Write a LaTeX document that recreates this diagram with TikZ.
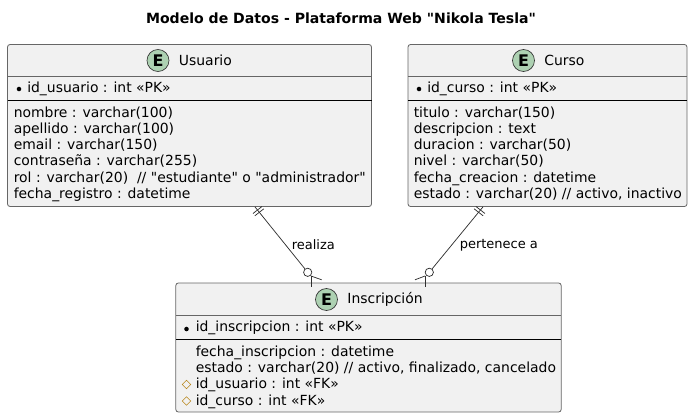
\documentclass[tikz,border=0pt]{standalone}
\usepackage{fontspec}
\setmainfont[Ligatures=TeXOff]{DejaVu Sans}
\usetikzlibrary{calc, positioning, shapes.geometric}

\definecolor{entityfill}{HTML}{F1F1F1}
\definecolor{spotfill}{HTML}{ADD1B2}
\definecolor{boxgray}{HTML}{666666}
\definecolor{linegray}{HTML}{303030}
\definecolor{fkgold}{HTML}{B8861B}

\tikzset{
	entity/.style = {draw=boxgray, fill=entityfill, line width=0.6pt, rounded corners=1.9pt, inner sep=0pt},
	spot/.style = {circle, draw=linegray, fill=spotfill, line width=0.5pt, minimum size=16.5pt, inner sep=0pt, font=\fontsize{12}{12}\selectfont\bfseries},
	head/.style = {anchor=west, inner sep=0pt, font=\fontsize{10.45}{12}\selectfont},
	row/.style = {anchor=west, inner sep=0pt, text height=8pt, text depth=2pt, font=\fontsize{10.45}{12}\selectfont},
	pkdot/.style = {circle, fill=black, minimum size=3.4pt, inner sep=0pt},
	fkmark/.style = {diamond, draw=fkgold, line width=0.5pt, minimum size=6.6pt, inner sep=0pt},
	rellabel/.style = {anchor=west, inner sep=0pt, font=\fontsize{9.75}{12}\selectfont},
	rel/.style = {draw=linegray, line width=0.55pt},
	optmark/.style = {circle, draw=linegray, fill=white, line width=0.55pt, minimum size=6.2pt, inner sep=0pt}
}

\begin{document}
\begin{tikzpicture}[x=0.75pt, y=-0.75pt]
	\useasboundingbox (0,0) rectangle (693,418);

	\node[inner sep=0pt, font=\fontsize{10.55}{12}\selectfont\bfseries] (title) at (341,18) {Modelo de Datos - Plataforma Web "Nikola Tesla"};

	% Usuario
	\node[entity, minimum width=273pt, minimum height=121.5pt] (usuario) at (189.5,125.5) {};
	\draw[draw=boxgray, line width=0.6pt] (7.5,76.5) -- (371.5,76.5);
	\draw[draw=black, line width=0.6pt] (7.5,100) -- (371.5,100);
	\node[spot] (spotu) at (158,60.5) {E};
	\node[head, right=7pt of spotu] (headu) {Usuario};
	\node[pkdot] (dotu) at (19,89) {};
	\node[row] (idu) at (27,88) {id\_usuario : int «PK»};
	\node[row] (u1) at (13.5,113) {nombre : varchar(100)};
	\node[row] (u2) at (13.5,129) {apellido : varchar(100)};
	\node[row] (u3) at (13.5,145) {email : varchar(150)};
	\node[row] (u4) at (13.5,161.5) {contraseña : varchar(255)};
	\node[row] (u5) at (13.5,178) {rol : varchar(20)\ \ // "estudiante" o "administrador"};
	\node[row] (u6) at (13.5,194) {fecha\_registro : datetime};

	% Curso
	\node[entity, minimum width=209.25pt, minimum height=121.5pt] (curso) at (547.5,125.5) {};
	\draw[draw=boxgray, line width=0.6pt] (408,76.5) -- (687,76.5);
	\draw[draw=black, line width=0.6pt] (408,100) -- (687,100);
	\node[spot] (spotc) at (523.5,60.5) {E};
	\node[head, right=7pt of spotc] (headc) {Curso};
	\node[pkdot] (dotc) at (419,89) {};
	\node[row] (idc) at (427,88) {id\_curso : int «PK»};
	\node[row] (c1) at (413.5,113) {titulo : varchar(150)};
	\node[row] (c2) at (413.5,129) {descripcion : text};
	\node[row] (c3) at (413.5,145) {duracion : varchar(50)};
	\node[row] (c4) at (413.5,161.5) {nivel : varchar(50)};
	\node[row] (c5) at (413.5,178) {fecha\_creacion : datetime};
	\node[row] (c6) at (413.5,194) {estado : varchar(20) // activo, inactivo};

	% Inscripcion
	\node[entity, minimum width=289pt, minimum height=96.75pt] (inscripcion) at (368.5,347.5) {};
	\draw[draw=boxgray, line width=0.6pt] (176,315.5) -- (561,315.5);
	\draw[draw=black, line width=0.6pt] (176,339.5) -- (561,339.5);
	\node[spot] (spoti) at (326.5,299.5) {E};
	\node[head, right=7pt of spoti] (headi) {Inscripción};
	\node[pkdot] (doti) at (186.5,329) {};
	\node[row] (idi) at (195.5,327.5) {id\_inscripcion : int «PK»};
	\node[row] (i1) at (195.5,352) {fecha\_inscripcion : datetime};
	\node[row] (i2) at (195.5,368) {estado : varchar(20) // activo, finalizado, cancelado};
	\node[fkmark] (fku) at (186.5,384.5) {};
	\node[row] (i3) at (195.5,384.5) {id\_usuario : int «FK»};
	\node[fkmark] (fkc) at (186.5,401) {};
	\node[row] (i4) at (195.5,401) {id\_curso : int «FK»};

	% realiza
	\node[optmark] (optu) at (307.7,272.3) {};
	\coordinate (startu) at ([xshift=49.1pt]usuario.south);
	\coordinate (crowu) at (311,276);
	\draw[rel] (startu) -- (optu);
	\draw[rel] ($(startu)!3pt!(optu)$)+(-4.5,3.5) -- +(4.5,-3.5);
	\draw[rel] ($(startu)!5.2pt!(optu)$)+(-4.5,3.5) -- +(4.5,-3.5);
	\draw[rel] (crowu) -- ([yshift=-3pt]crowu |- inscripcion.north);
	\draw[rel] (crowu) -- (321.7,279.8);
	\node[rellabel] (lblu) at (291.5,245) {realiza};

	% pertenece a
	\node[optmark] (optc) at (429.3,272.3) {};
	\coordinate (startc) at ([xshift=-48.4pt]curso.south);
	\coordinate (crowc) at (425,276);
	\draw[rel] (startc) -- (optc);
	\draw[rel] ($(startc)!3pt!(optc)$)+(-4.5,-3.5) -- +(4.5,3.5);
	\draw[rel] ($(startc)!5.2pt!(optc)$)+(-4.5,-3.5) -- +(4.5,3.5);
	\draw[rel] (crowc) -- ([yshift=-3pt]crowc |- inscripcion.north);
	\draw[rel] (crowc) -- (415,279.8);
	\node[rellabel] (lblc) at (459.5,245) {pertenece a};
\end{tikzpicture}
\end{document}
